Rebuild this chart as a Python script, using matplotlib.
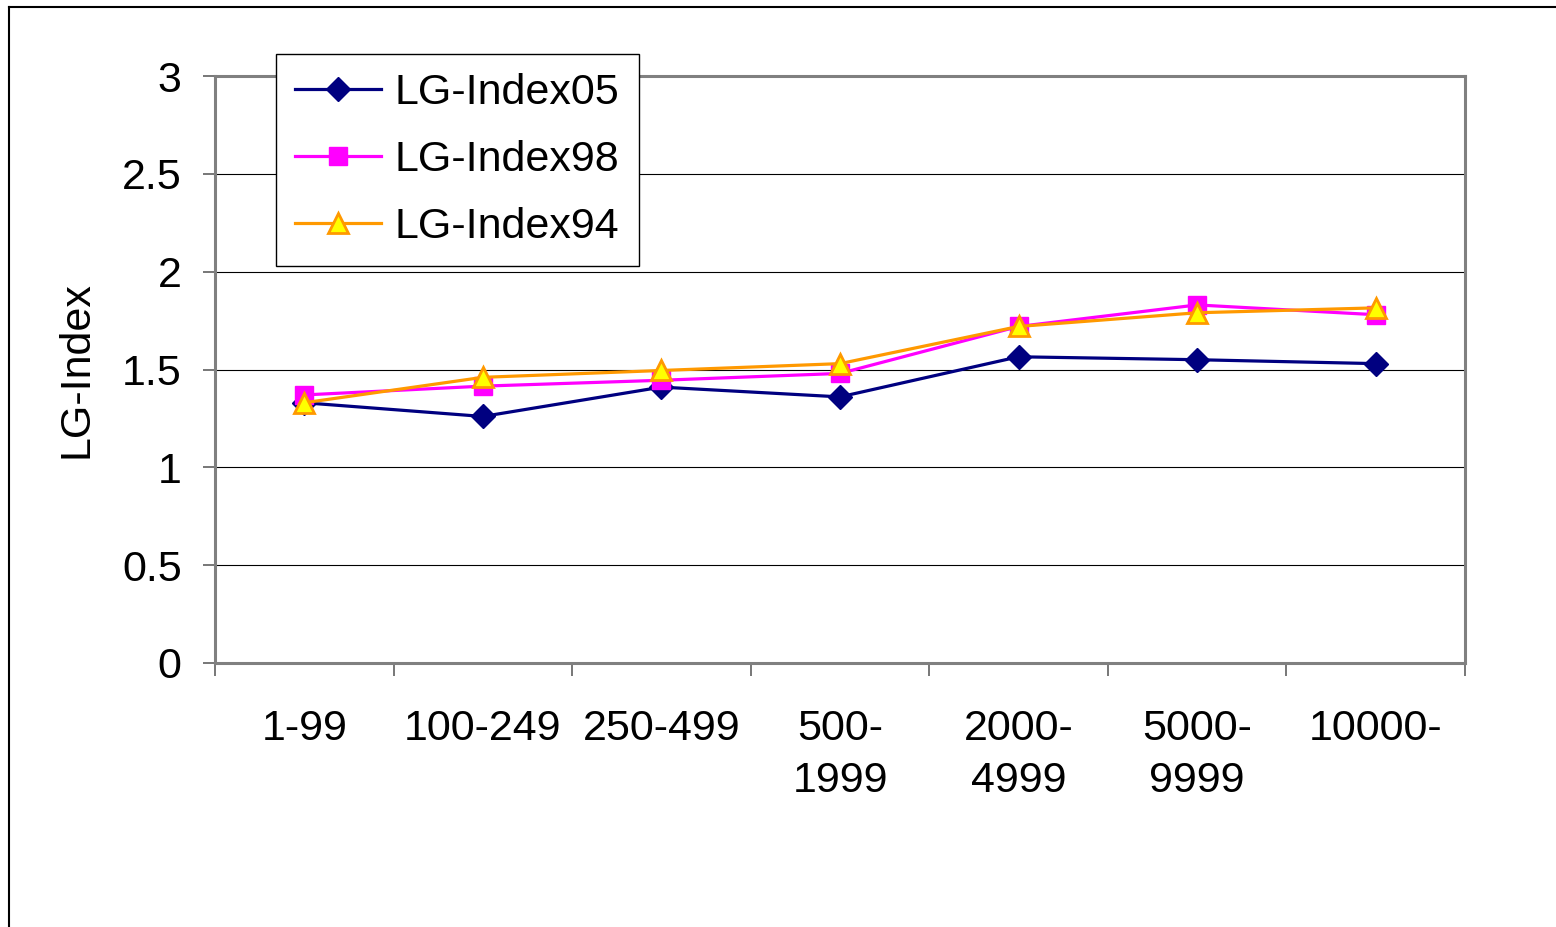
import matplotlib.pyplot as plt
from matplotlib.lines import Line2D
import numpy as np

plt.rcParams['font.family'] = ['Liberation Sans', 'DejaVu Sans']

categories = ['1-99', '100-249', '250-499', '500-\n1999', '2000-\n4999', '5000-\n9999', '10000-']
lg05 = [1.33, 1.26, 1.41, 1.36, 1.565, 1.55, 1.53]
lg98 = [1.37, 1.415, 1.445, 1.48, 1.72, 1.83, 1.78]
lg94 = [1.33, 1.46, 1.495, 1.53, 1.72, 1.79, 1.815]

x = np.arange(len(categories))

fig = plt.figure(figsize=(15.56, 9.27), dpi=100)
ax = fig.add_axes([215 / 1556, 1 - 663 / 927, 1250 / 1556, 587 / 927])

# outer chart frame (cut off at right and bottom)
fig.add_artist(Line2D([9 / 1556, 1], [1 - 7 / 927, 1 - 7 / 927], color='black', lw=1.5))
fig.add_artist(Line2D([9 / 1556, 9 / 1556], [0, 1 - 7 / 927], color='black', lw=1.5))

ax.plot(x, lg05, color='#000080', lw=2.3, marker='D', markersize=12,
        markerfacecolor='#000080', markeredgecolor='#000080', label='LG-Index05')
ax.plot(x, lg98, color='#FF00FF', lw=2.3, marker='s', markersize=12.5,
        markerfacecolor='#FF00FF', markeredgecolor='#FF00FF', label='LG-Index98')
ax.plot(x, lg94, color='#FF9900', lw=2.3, marker='^', markersize=14,
        markerfacecolor='#FFFF00', markeredgecolor='#FF9900', markeredgewidth=2,
        label='LG-Index94')

ax.set_ylim(0, 3)
ax.set_yticks(np.arange(0, 3.01, 0.5))
ax.set_yticklabels(['0', '0.5', '1', '1.5', '2', '2.5', '3'])
ax.yaxis.grid(True, color='black', lw=0.8)
ax.set_axisbelow(True)

ax.set_xlim(-0.5, len(categories) - 0.5)
ax.set_xticks(x)
ax.set_xticklabels(categories, linespacing=1.4, va='top')
ax.set_xticks(np.arange(-0.5, len(categories)), minor=True)
ax.tick_params(axis='x', which='major', length=0, pad=33, labelsize=31)
ax.tick_params(axis='x', which='minor', length=9, width=1.2, color='#606060')
ax.tick_params(axis='y', length=9, width=1.2, color='#606060', pad=15, labelsize=31)

for s in ax.spines.values():
    s.set_color('#808080')
    s.set_linewidth(2.2)

ax.set_ylabel('LG-Index', fontsize=31, labelpad=18)

ax.legend(loc='upper left', bbox_to_anchor=((276 - 215) / 1250, (663 - 54) / 587),
          borderaxespad=0, fontsize=31, fancybox=False, framealpha=1,
          edgecolor='black', handlelength=2.0, handletextpad=0.3,
          labelspacing=0.62, borderpad=0.45).get_frame().set_linewidth(1.0)

fig.savefig('out.png', dpi=100)
